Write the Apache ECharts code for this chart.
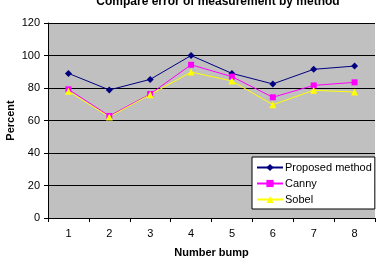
<!DOCTYPE html>
<html><head><meta charset="utf-8">
<script src="https://cdn.jsdelivr.net/npm/echarts@6/dist/echarts.min.js"></script>
<style>html,body{margin:0;padding:0;background:#fff}#c{width:378px;height:258px}</style>
</head><body><div id="c"></div>
<script>
const categories = ['1','2','3','4','5','6','7','8'];
const proposed = [89, 78.8, 85.3, 100, 89, 82.5, 91.5, 93.5];
const canny = [79.2, 62.8, 76.3, 94.3, 87, 74.3, 81.6, 83.5];
const sobel = [78, 62.2, 75.9, 89.8, 84.3, 69.7, 78.6, 77.5];
const seriesNames = ['Proposed method', 'Canny', 'Sobel'];

const font = 'Liberation Sans, Arial, sans-serif';
const chart = echarts.init(document.getElementById('c'), null, {renderer:'canvas'});
function s(name, data, color, symbol, size){
  return {name, type:'line', data, symbol, symbolSize:size, itemStyle:{color}, lineStyle:{color, width:1}, animation:false};
}
chart.setOption({
  animation:false,
  title:{text:'Compare error of measurement by method', left:213, textAlign:'center', top:-9,
    textStyle:{fontFamily:font, fontSize:12, fontWeight:'bold', color:'#000'}},
  grid:{left:48, right:3, top:23, bottom:40, containLabel:false, outerBoundsMode:'none', show:true, backgroundColor:'#C0C0C0', borderWidth:0},
  legend:{orient:'vertical', left:252, top:157, width:119, height:52, backgroundColor:'#fff', borderColor:'#000', borderWidth:1,
    padding:[5,3,4,4], itemGap:5, itemWidth:26, itemHeight:9,
    textStyle:{fontFamily:font, fontSize:11, color:'#000', padding:[0,0,0,-3]}, data:seriesNames},
  xAxis:{type:'category', data:categories, boundaryGap:true, name:'Number bump', nameLocation:'middle', nameGap:29,
    nameTextStyle:{fontFamily:font, fontSize:11, fontWeight:'bold', color:'#000'},
    axisLine:{lineStyle:{color:'#000', width:1}}, axisTick:{show:true, length:4, lineStyle:{color:'#000'}},
    axisLabel:{fontFamily:font, fontSize:11, color:'#000', margin:10}},
  yAxis:{type:'value', min:0, max:120, interval:20, name:'Percent', nameLocation:'middle', nameGap:32, nameMoveOverlap:false,
    nameTextStyle:{fontFamily:font, fontSize:11, fontWeight:'bold', color:'#000'},
    axisLine:{show:true, lineStyle:{color:'#000', width:1}}, axisTick:{show:true, length:4, lineStyle:{color:'#000'}},
    axisLabel:{fontFamily:font, fontSize:11, color:'#000', margin:8},
    splitLine:{lineStyle:{color:'#000', width:1}}},
  series:[
    s(seriesNames[0], proposed, '#000080', 'diamond', 7),
    s(seriesNames[1], canny, '#FF00FF', 'rect', 6),
    s(seriesNames[2], sobel, '#FFFF00', 'triangle', 7)
  ]
});
</script></body></html>
